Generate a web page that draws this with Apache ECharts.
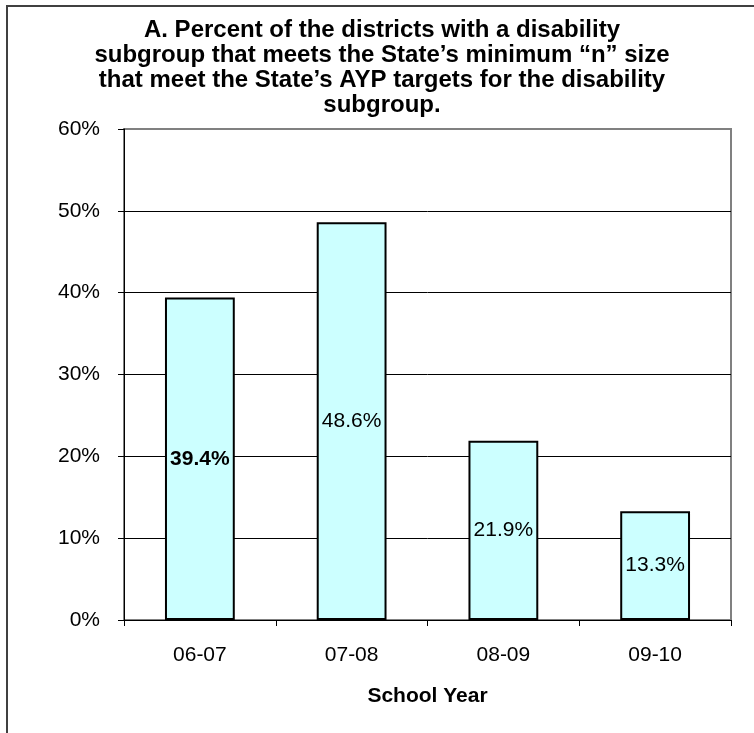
<!DOCTYPE html>
<html>
<head>
<meta charset="utf-8">
<script src="https://cdn.jsdelivr.net/npm/echarts@6/dist/echarts.min.js"></script>
<style>html,body{margin:0;padding:0;background:#fff;}#c{width:754px;height:733px;}</style>
</head>
<body>
<div id="c"></div>
<script>
var categories = ['06-07', '07-08', '08-09', '09-10'];
var values = [39.4, 48.6, 21.9, 13.3];
var yTicks = [0, 10, 20, 30, 40, 50, 60];
var titleText = 'A. Percent of the districts with a disability\nsubgroup that meets the State\u2019s minimum \u201cn\u201d size\nthat meet the State\u2019s AYP targets for the disability\nsubgroup.';
var xName = 'School Year';

var chart = echarts.init(document.getElementById('c'), null, {renderer: 'canvas'});
var font = 'Liberation Sans, Arial, sans-serif';
chart.setOption({
  animation: false,
  backgroundColor: '#fff',
  title: {
    text: titleText,
    left: 377, top: 13, textAlign: 'center',
    textStyle: {fontFamily: font, fontSize: 24, fontWeight: 'bold', color: '#000', lineHeight: 25}
  },
  graphic: [{
    type: 'rect', shape: {x: 7, y: 6, width: 900, height: 900},
    style: {fill: null, stroke: '#404040', lineWidth: 2}, z: -1
  }],
  grid: {left: 124, right: 23, top: 129, bottom: 113, show: true, borderColor: '#808080', borderWidth: 2},
  xAxis: {
    type: 'category', data: categories,
    name: xName, nameLocation: 'middle', nameGap: 66,
    nameTextStyle: {fontFamily: font, fontSize: 21, fontWeight: 'bold', color: '#000'},
    axisLine: {lineStyle: {color: '#000', width: 1}},
    axisTick: {show: true, length: 6, lineStyle: {color: '#000'}},
    axisLabel: {fontFamily: font, fontSize: 21, color: '#000', margin: 25}
  },
  yAxis: {
    type: 'value', min: yTicks[0], max: yTicks[yTicks.length - 1], interval: 10,
    axisLine: {show: true, lineStyle: {color: '#000', width: 1}},
    axisTick: {show: true, length: 6, lineStyle: {color: '#000'}},
    axisLabel: {fontFamily: font, fontSize: 21, color: '#000', margin: 24, formatter: '{value}%'},
    splitLine: {show: true, lineStyle: {color: ['#000', '#000', '#000', '#000', '#000', '#000', '#808080'], width: 1}}
  },
  series: [{
    type: 'bar', data: values.map(function (v, i) {
      return {value: v, label: {fontWeight: i === 0 ? 'bold' : 'normal'}};
    }),
    barWidth: '46%',
    itemStyle: {color: '#CCFFFF', borderColor: '#000', borderWidth: 2},
    label: {show: true, position: 'inside', fontFamily: font, fontSize: 21, color: '#000',
      formatter: function (p) { return p.value.toFixed(1) + '%'; }}
  }]
});
</script>
</body>
</html>
